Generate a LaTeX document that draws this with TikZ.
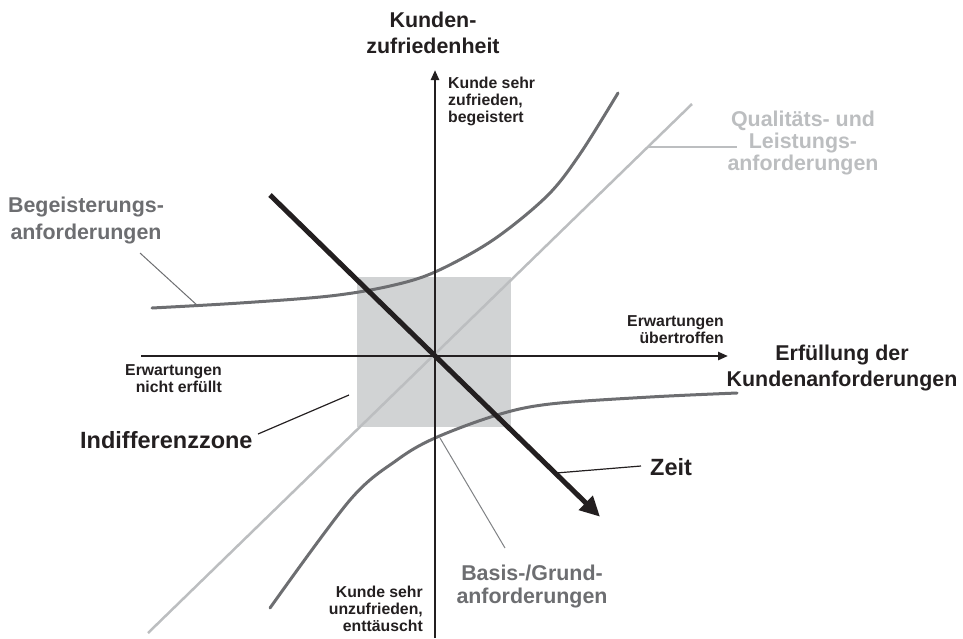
\documentclass[tikz,border=0pt]{standalone}
\usepackage{fontspec}
\setmainfont{Liberation Sans}
\usetikzlibrary{arrows.meta}
\definecolor{axisblack}{HTML}{231F20}
\definecolor{curvegray}{HTML}{6D6E71}
\definecolor{linegray}{HTML}{BCBEC0}
\definecolor{zonegray}{HTML}{D1D3D4}
\definecolor{leadgray}{HTML}{808285}

\begin{document}
\begin{tikzpicture}[x=1pt,y=-1pt,
  axis/.style={draw=axisblack, line width=2.4pt, -{Triangle[length=10pt,width=8pt]}},
  timearrow/.style={draw=axisblack, line width=5pt, -{Triangle[length=20pt,width=19pt]}},
  kurve/.style={draw=curvegray, line width=3pt, line cap=round},
  qline/.style={draw=linegray, line width=2.5pt},
  leader/.style={line width=1pt},
  lbl/.style={inner sep=0pt, text=axisblack},
  bigtxt/.style={font=\bfseries\fontsize{21.4}{26}\selectfont},
  hugetxt/.style={font=\bfseries\fontsize{23.5}{28}\selectfont},
  smalltxt/.style={font=\bfseries\fontsize{15.8}{17}\selectfont},
]
\useasboundingbox (0,0) rectangle (963,638);

% indifference zone
\node[fill=zonegray, draw=none, minimum width=154pt, minimum height=150pt,
      inner sep=0pt, anchor=north west] (zone) at (357,277) {};

% quality / performance requirements (straight line)
\coordinate (q-start) at (148,633);
\coordinate (q-end) at (692,104);
\draw[qline] (q-start) -- (q-end);

% excitement requirements
\draw[kurve] plot[smooth, tension=0.55] coordinates
  {(152,308) (240,303) (330,296) (390,286) (435,272) (493,240) (547,196) (580,154) (618,93)};

% basic requirements
\draw[kurve] plot[smooth, tension=0.55] coordinates
  {(270,608) (350,500) (397,460) (435,438) (497,415) (550,404) (650,397) (737,393)};

% axes
\coordinate (y-bot) at (435,638);
\coordinate (y-top) at (435,70);
\coordinate (x-left) at (141,356);
\coordinate (x-right) at (728,356);
\draw[axis] (y-bot) -- (y-top);
\draw[axis] (x-left) -- (x-right);

% time arrow
\coordinate (t-start) at (270,195);
\coordinate (t-end) at (600,516.7);
\draw[timearrow] (t-start) -- (t-end);

% labels (multi-line nodes are placed by the baseline of their last line)
\node[lbl, bigtxt, align=center, anchor=base] (ylab) at (433,53) {Kunden-\\zufriedenheit};
\node[lbl, smalltxt, align=left, anchor=base west] (topnote) at (448,122) {Kunde sehr\\zufrieden,\\begeistert};
\node[lbl, bigtxt, align=center, anchor=base, text=linegray,
      font=\bfseries\fontsize{21.4}{21.7}\selectfont] (qual) at (803,170) {Qualitäts- und\\Leistungs-\\anforderungen};
\node[lbl, bigtxt, align=center, anchor=base, text=curvegray,
      font=\bfseries\fontsize{21.4}{27}\selectfont] (beg) at (86,239) {Begeisterungs-\\anforderungen};
\node[lbl, smalltxt, align=right, anchor=base east,
      font=\bfseries\fontsize{15.8}{16.5}\selectfont] (exceed) at (724,343) {Erwartungen\\übertroffen};
\node[lbl, bigtxt, align=center, anchor=base] (xlab) at (842,386) {Erfüllung der\\Kundenanforderungen};
\node[lbl, smalltxt, align=right, anchor=base east] (unmet) at (222,392) {Erwartungen\\nicht erfüllt};
\node[lbl, hugetxt, anchor=base west] (indiff) at (80,448.3) {Indifferenzzone};
\node[lbl, hugetxt, anchor=base west] (zeit) at (650,475) {Zeit};
\node[lbl, bigtxt, align=center, anchor=base, text=curvegray,
      font=\bfseries\fontsize{21.4}{23}\selectfont] (basis) at (532,603) {Basis-/Grund-\\anforderungen};
\node[lbl, smalltxt, align=right, anchor=base east] (botnote) at (423,631.7) {Kunde sehr\\unzufrieden,\\enttäuscht};

% leader lines
\coordinate (beg-a) at (140,253);
\coordinate (beg-b) at (198,306);
\draw[leader, draw=curvegray] (beg-a) -- (beg-b);
\coordinate (qual-a) at (649,147);
\coordinate (qual-b) at (737,147);
\draw[leader, draw=linegray, line width=1.5pt] (qual-a) -- (qual-b);
\coordinate (bas-a) at (440,438);
\coordinate (bas-b) at (505,548);
\draw[leader, draw=leadgray] (bas-a) -- (bas-b);
\coordinate (ind-a) at (258,434);
\coordinate (ind-b) at (349,395);
\draw[leader, draw=axisblack, line width=1.2pt] (ind-a) -- (ind-b);
\coordinate (zeit-a) at (556,473);
\coordinate (zeit-b) at (641,466);
\draw[leader, draw=axisblack, line width=1.2pt] (zeit-a) -- (zeit-b);
\end{tikzpicture}
\end{document}
